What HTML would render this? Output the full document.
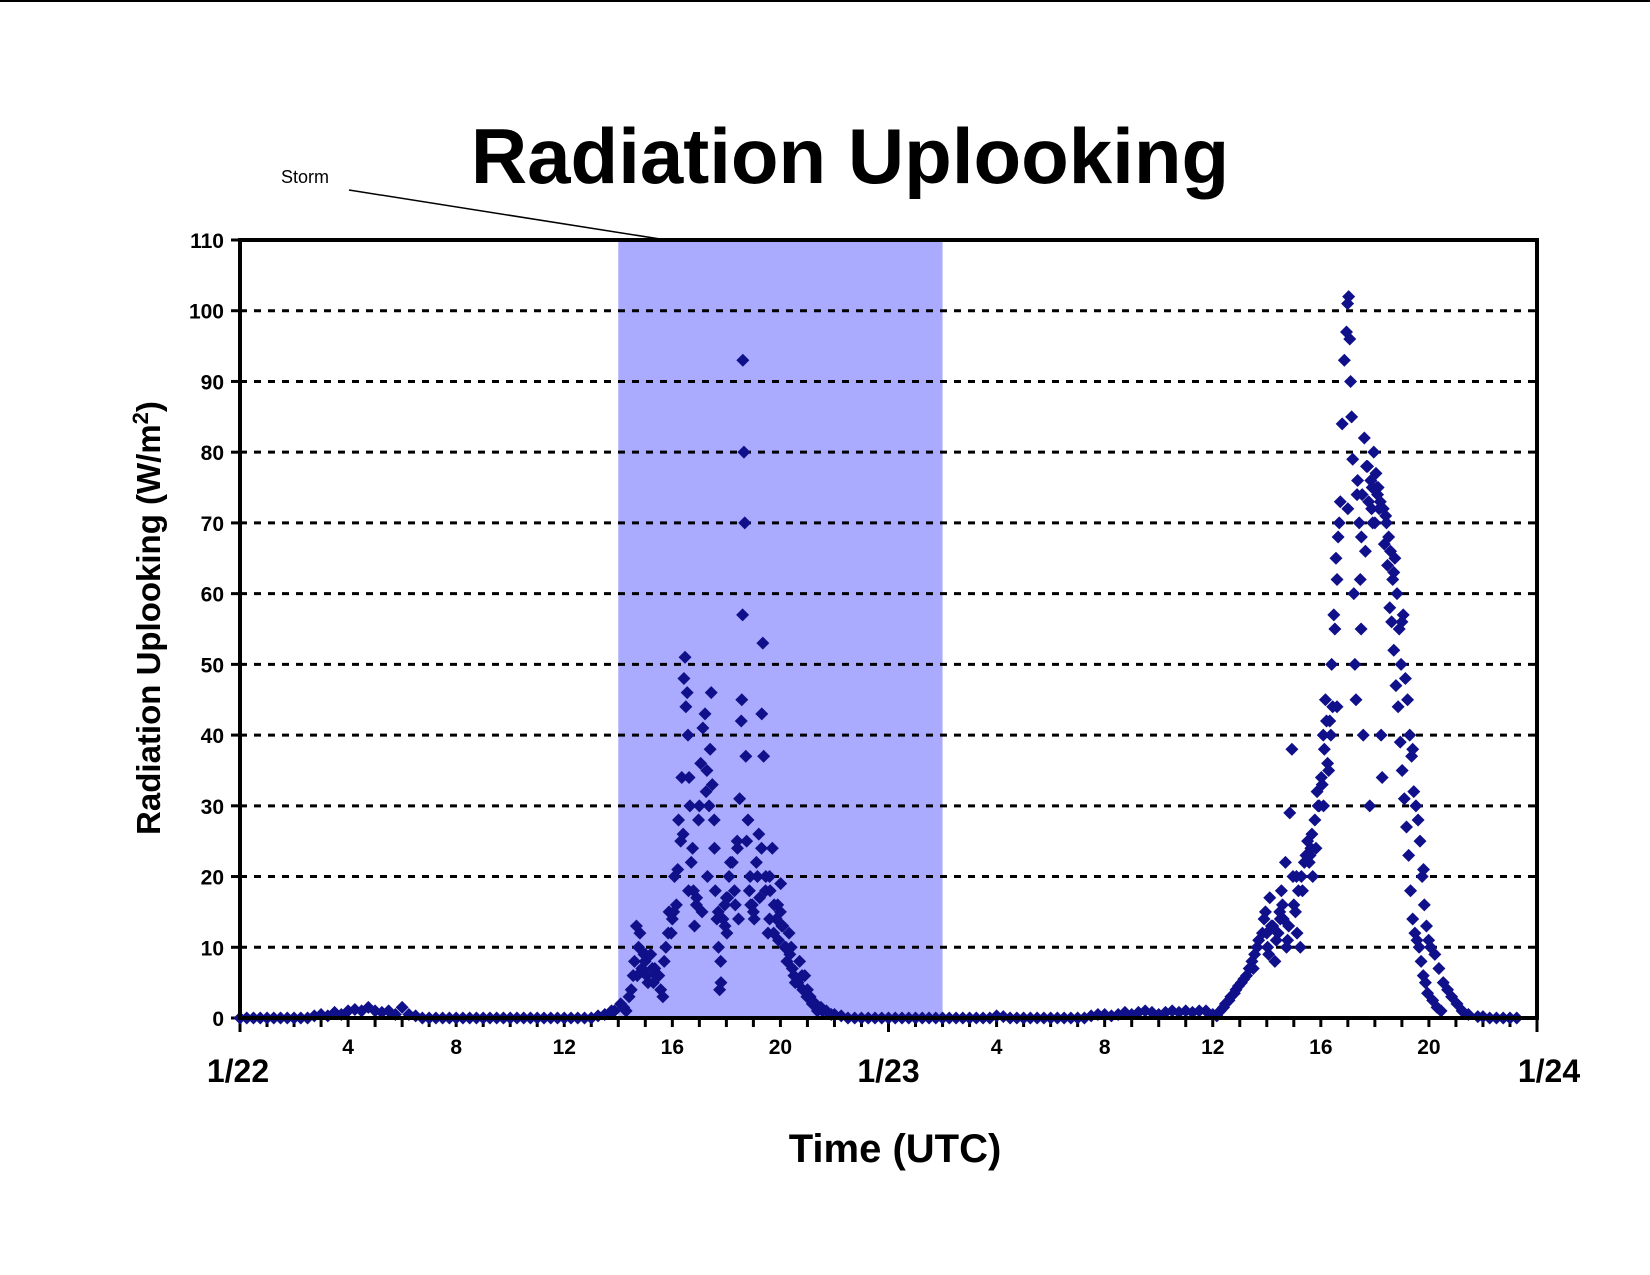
<!DOCTYPE html>
<html><head><meta charset="utf-8"><style>
html,body{margin:0;padding:0;background:#fff;}
svg{display:block;font-family:"Liberation Sans",Arial,sans-serif;}
</style></head><body>
<svg id="chart" width="1650" height="1275" viewBox="0 0 1650 1275" xmlns="http://www.w3.org/2000/svg">
<rect width="1650" height="1275" fill="#fff"/>
<line x1="0" y1="1" x2="1650" y2="1" stroke="#000" stroke-width="2"/>
<text x="850" y="183" font-size="78" font-weight="bold" text-anchor="middle">Radiation Uplooking</text>
<text x="305" y="183" font-size="18" text-anchor="middle">Storm</text>
<line x1="349" y1="190" x2="679" y2="242" stroke="#000" stroke-width="1.5"/>
<g id="plot"></g>
<text x="895" y="1162" font-size="40" font-weight="bold" text-anchor="middle">Time (UTC)</text>
<text transform="translate(160,618) rotate(-90)" font-size="33" font-weight="bold" text-anchor="middle">Radiation Uplooking (W/m<tspan dy="-12" font-size="22">2</tspan><tspan dy="12">)</tspan></text>
</svg>
<script>
const yTicks=[0,10,20,30,40,50,60,70,80,90,100,110];
const xTickLabels=["4","8","12","16","20","4","8","12","16","20"];
const xTickHours=[4,8,12,16,20,28,32,36,40,44];
const dateLabels=["1/22","1/23","1/24"];
const dateHours=[0,24,48];
const stormStart=14, stormEnd=26;
const baseT=[0,0.25,0.5,0.75,1,1.25,1.5,1.75,2,2.25,2.5,2.75,3,3.25,3.5,3.75,4,4.25,4.5,4.75,5,5.25,5.5,5.75,6,6.25,6.5,6.75,7,7.25,7.5,7.75,8,8.25,8.5,8.75,9,9.25,9.5,9.75,10,10.25,10.5,10.75,11,11.25,11.5,11.75,12,12.25,12.5,12.75,13,13.25,13.5,13.75,22,22.25,22.5,22.75,23,23.25,23.5,23.75,24,24.25,24.5,24.75,25,25.25,25.5,25.75,26,26.25,26.5,26.75,27,27.25,27.5,27.75,28,28.25,28.5,28.75,29,29.25,29.5,29.75,30,30.25,30.5,30.75,31,31.25,31.5,31.75,32,32.25,32.5,32.75,33,33.25,33.5,33.75,34,34.25,34.5,34.75,35,35.25,35.5,35.75,36,36.15,46,46.25,46.5,46.75,47,47.25,47.5,47.75,48];
const baseV=[0,0,0,0,0,0,0,0,0,0,0,0.3,0.5,0.3,0.8,0.5,1,1.2,1,1.5,1,0.8,1,0.5,1.5,0.5,0.3,0,0,0,0,0,0,0,0,0,0,0,0,0,0,0,0,0,0,0,0,0,0,0,0,0,0,0.3,0.5,1,0.5,0.3,0,0,0,0,0,0,0,0,0,0,0,0,0,0,0,0,0,0,0,0,0,0,0.3,0.2,0,0,0,0,0,0,0,0,0,0,0,0,0.3,0.5,0.5,0.3,0.5,0.8,0.5,0.8,1,0.8,0.5,0.8,1,0.8,1,0.8,1,1,0.5,0.3,0.2,0,0,0,0,0];
const stormT=[13.86,14.09,14.29,14.48,14.6,14.67,14.75,14.87,14.99,15.1,15.26,15.41,15.57,15.65,15.76,15.88,15.96,16.08,16.15,16.23,16.31,16.35,16.43,16.47,16.5,16.58,16.62,16.7,16.78,16.82,16.89,16.97,17.05,17.13,17.21,17.28,17.36,17.44,17.48,17.56,17.59,17.71,17.75,17.79,17.87,17.94,18.02,18.1,18.22,18.33,18.41,18.49,18.57,18.61,18.65,18.68,18.6,18.72,18.8,18.88,18.96,19.03,19.11,19.23,19.31,19.35,19.38,19.46,19.54,19.62,19.7,19.77,19.85,19.93,20.01,20.09,20.16,20.24,20.32,20.44,20.55,20.71,20.83,20.98,21.18,21.37,21.56,21.88,14.7,15.0,15.3,16.0,16.6,17.0,17.3,17.7,18.0,18.4,18.9,19.2,19.6,20.0,20.4,20.9,14.2,14.4,14.55,14.8,14.95,15.05,15.2,15.35,15.5,15.7,15.85,16.05,16.2,16.4,16.55,16.65,16.75,16.9,17.1,17.25,17.4,17.55,17.65,17.8,17.95,18.05,18.15,18.3,18.45,18.55,18.75,18.85,19.0,19.15,19.3,19.45,19.6,19.75,19.9,20.05,20.2,20.35,20.5,20.65,20.8,21.0,21.1,21.3,21.5,21.7,22.0];
const stormV=[1,2,1,4,8,13,10,7,8,5,7,6,4,3,10,15,12,20,16,28,25,34,48,51,44,40,34,22,18,13,16,28,36,41,43,35,30,46,33,24,18,10,4,8,14,16,12,20,22,16,24,31,45,93,80,70,57,37,28,20,16,14,22,17,43,53,37,20,12,18,24,16,14,11,19,13,10,8,12,7,5,8,4,3,2,1,1,0.5,6,9,5,14,18,30,20,15,17,25,16,26,20,15,10,6,1.5,3,6,12,9,6,9,7,6,8,12,15,21,26,46,30,24,17,15,32,38,28,14,5,13,17,22,18,14,42,25,18,15,20,24,18,14,12,16,13,10,9,6,5,6,4,3,2,1.5,1];
const day2T=[36.28,36.47,36.67,36.86,37.06,37.25,37.45,37.64,37.84,37.95,38.03,38.11,38.22,38.3,38.42,38.54,38.61,38.69,38.77,38.85,38.93,39.0,39.12,39.24,39.32,39.39,39.51,39.63,39.7,39.78,39.86,39.94,40.02,40.09,40.17,40.25,40.33,40.4,40.48,40.56,40.64,40.72,40.79,40.87,40.95,40.99,41.03,41.07,41.1,41.14,41.18,41.22,41.26,41.3,41.34,41.42,41.46,41.49,41.57,41.61,41.65,41.73,41.81,41.85,41.88,41.96,42.0,42.04,42.12,42.2,42.23,42.27,42.31,42.43,42.51,42.58,42.66,42.74,42.82,42.9,42.97,43.05,43.13,43.21,43.29,43.36,43.44,43.52,43.6,43.67,43.75,43.83,43.91,43.99,44.06,44.22,44.37,44.53,44.69,44.84,45.04,45.23,45.46,45.81,37.5,38.0,38.5,39.1,39.6,40.1,40.6,41.0,41.5,41.9,42.1,42.4,42.7,43.0,43.4,43.8,36.4,36.6,36.8,36.95,37.15,37.35,37.55,37.7,37.9,38.07,38.17,38.35,38.48,38.58,38.73,38.81,38.97,39.06,39.17,39.28,39.45,39.57,39.67,39.82,39.9,40.05,40.13,40.21,40.29,40.37,40.44,40.52,40.6,40.68,41.36,41.53,41.69,41.77,41.92,42.08,42.16,42.35,42.47,42.55,42.62,42.7,42.78,42.86,42.94,43.01,43.09,43.17,43.25,43.32,43.4,43.48,43.56,43.64,43.71,43.79,43.87,43.95,44.14,44.3,44.45,44.61,44.76,44.92,45.1,45.3];
const day2V=[1,2,3,4,5,6,8,10,12,15,10,17,13,8,12,18,14,22,11,29,38,16,12,10,18,22,25,24,20,28,32,30,34,40,45,36,42,50,57,65,68,73,84,93,97,101,102,96,90,85,79,60,50,45,74,70,62,55,40,82,66,78,30,76,72,80,70,77,75,73,40,34,72,70,68,66,62,65,60,55,50,57,48,45,40,37,32,30,28,25,20,16,13,11,10,9,7,5,4,3,2,1,0.5,0.2,7,12,14,20,23,30,44,72,68,75,74,71,63,56,38,21,1.5,2.5,3.5,4.5,5.5,7,9,11,14,9,13,11,15,16,10,13,20,15,18,20,23,22,26,24,30,33,38,42,35,40,44,55,62,70,76,74,78,73,70,75,72,67,64,58,56,52,47,44,39,35,31,27,23,18,14,12,11,10,8,6,5,3.5,2.5,1.5,1];

const L=240,R=1537,T=240,B=1018;
const X=h=>L+h*(R-L)/48;
const Y=v=>B-v*(B-T)/110;
const NS="http://www.w3.org/2000/svg";
const g=document.getElementById('plot');
function mk(tag,attrs){const e=document.createElementNS(NS,tag);for(const k in attrs)e.setAttribute(k,attrs[k]);g.appendChild(e);return e;}

let band=mk('rect',{x:X(stormStart),y:T,width:X(stormEnd)-X(stormStart),height:B-T,fill:'#aaaaff'});



yTicks.forEach(v=>{
  if(v>0&&v<110){
    let gl=mk('line',{x1:L,y1:Y(v),x2:R,y2:Y(v),stroke:'#000','stroke-width':3,'stroke-dasharray':'7 7'});
    
    
  }
  let tk=mk('line',{x1:L-9,y1:Y(v),x2:L,y2:Y(v),stroke:'#000','stroke-width':3});
  
  
  let t=mk('text',{x:L-16,y:Y(v)+8,'font-size':21,'font-weight':'bold','text-anchor':'end'});
  t.textContent=v;
  
  
});

for(let h=0;h<=48;h++){
  let tk=mk('line',{x1:X(h),y1:B,x2:X(h),y2:B+(h%24===0?14:9),stroke:'#000','stroke-width':3});
  
  
}
xTickHours.forEach((h,i)=>{
  let t=mk('text',{x:X(h),y:B+36,'font-size':21,'font-weight':'bold','text-anchor':'middle'});
  t.textContent=xTickLabels[i];
  
  
});
dateHours.forEach((h,i)=>{
  let t=mk('text',{x:X(h)+(i===0?-2:(i===2?12:0)),y:B+64,'font-size':32,'font-weight':'bold','text-anchor':'middle'});
  t.textContent=dateLabels[i];
  
  
});

function drawSeries(ts,vs,name){
  for(let i=0;i<ts.length;i++){
    const cx=X(ts[i]),cy=Y(vs[i]),s=6.5;
    let p=mk('polygon',{points:`${cx},${cy-s} ${cx+s},${cy} ${cx},${cy+s} ${cx-s},${cy}`,fill:'#10108a'});
    
    
  }
}
drawSeries(baseT,baseV,'baseline-point');
drawSeries(stormT,stormV,'storm-point');
drawSeries(day2T,day2V,'day2-point');

let frame=mk('rect',{x:L,y:T,width:R-L,height:B-T,fill:'none',stroke:'#000','stroke-width':4});


</script>
</body></html>
